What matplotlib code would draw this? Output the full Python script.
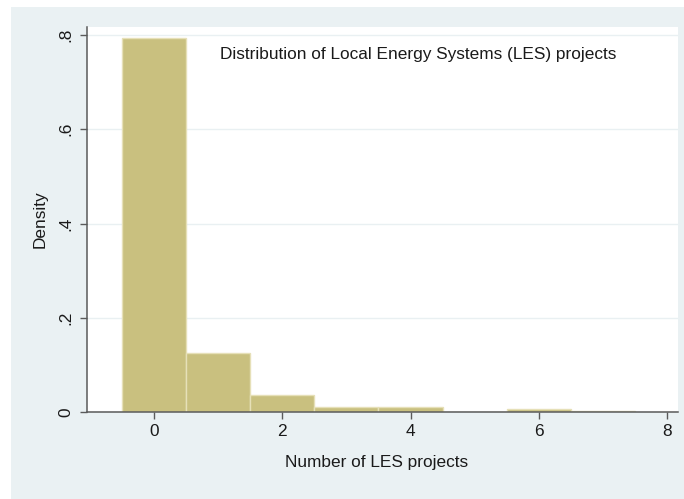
import matplotlib
matplotlib.use("Agg")
import matplotlib.pyplot as plt
from matplotlib.patches import Rectangle
import numpy as np

# Histogram of LES project counts (bin width 1, density scale)
bin_centers = [0, 1, 2, 3, 4, 5, 6, 7]
density = [0.794, 0.126, 0.037, 0.0105, 0.0105, 0.0, 0.0064, 0.0027]

x_ticks = [0, 2, 4, 6, 8]
x_tick_labels = ["0", "2", "4", "6", "8"]
y_ticks = [0, 0.2, 0.4, 0.6, 0.8]
y_tick_labels = ["0", ".2", ".4", ".6", ".8"]

title_text = "Distribution of Local Energy Systems (LES) projects"
x_label = "Number of LES projects"
y_label = "Density"

plt.rcParams["font.family"] = ["Liberation Sans", "DejaVu Sans"]
FS = 12.4

W, H = 684, 499
fig = plt.figure(figsize=(W / 100, H / 100), dpi=100, facecolor="white")

# graph region background
bg = Rectangle((11 / W, 0), 1 - 11 / W, 1 - 7 / H,
               transform=fig.transFigure, facecolor="#EAF1F3",
               edgecolor="none", zorder=-10)
fig.add_artist(bg)

ax = fig.add_axes([87 / W, 1 - 412 / H, (678 - 87) / W, (412 - 27) / H])
ax.set_zorder(1)
ax.set_facecolor("white")

ax.bar(bin_centers, density, width=1.0, align="center",
       color="#C9C07F", edgecolor="#E6E0B8", linewidth=1.0, zorder=2)

ax.set_xlim(-1.045, 8.17)
ax.set_ylim(0, 0.817)

ax.set_yticks(y_ticks)
ax.set_yticklabels(y_tick_labels, rotation=90, va="center", fontsize=FS)
ax.set_xticks(x_ticks)
ax.set_xticklabels(x_tick_labels, fontsize=FS)

ax.yaxis.grid(True, color="#E9F0F2", linewidth=1.0, zorder=1)
ax.set_axisbelow(True)

for side in ("top", "right"):
    ax.spines[side].set_visible(False)
for side in ("left", "bottom"):
    ax.spines[side].set_color("#5A5A5A")
    ax.spines[side].set_linewidth(1.1)
    ax.spines[side].set_zorder(3)

ax.tick_params(axis="both", direction="out", length=5, width=1.0,
               color="#5A5A5A", labelcolor="#1A1A1A")
ax.tick_params(axis="x", pad=4)
ax.tick_params(axis="y", pad=5)

ax.set_xlabel(x_label, fontsize=FS, color="#1A1A1A")
ax.xaxis.set_label_coords((377 - 87) / 591, -(462 - 412) / 385, transform=ax.transAxes)
ax.xaxis.label.set_va("center")
ax.set_ylabel(y_label, fontsize=FS, color="#1A1A1A")
ax.yaxis.set_label_coords(-(87 - 40) / 591, 0.5, transform=ax.transAxes)
ax.yaxis.label.set_va("center")

ax.text(418 / W, 1 - 54 / H, title_text, transform=fig.transFigure,
        ha="center", va="center", fontsize=FS, color="#1A1A1A")

fig.savefig("out.png", dpi=100, facecolor="white")
